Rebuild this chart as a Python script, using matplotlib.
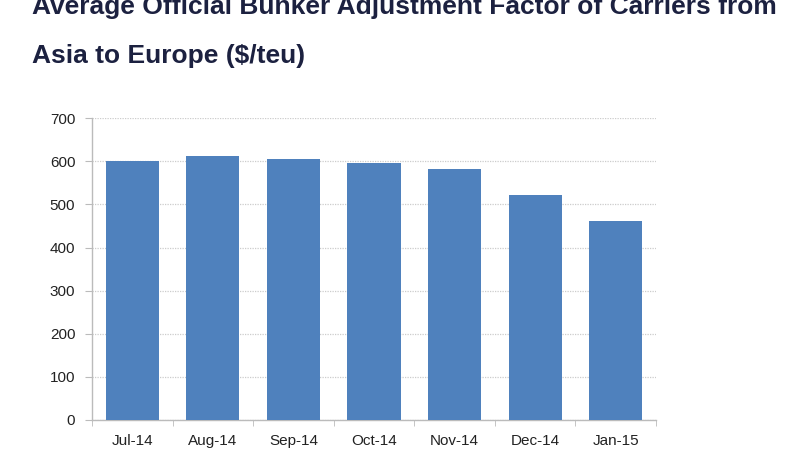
import matplotlib.pyplot as plt
import numpy as np

months = ['Jul-14', 'Aug-14', 'Sep-14', 'Oct-14', 'Nov-14', 'Dec-14', 'Jan-15']
baf = [601, 612, 606, 597, 583, 521, 462]
yticks = [0, 100, 200, 300, 400, 500, 600, 700]

plt.rcParams['font.family'] = ['Liberation Sans', 'DejaVu Sans']

fig = plt.figure(figsize=(8, 4.5), dpi=100)
ax = fig.add_axes([0.115, 0.067, 0.705, 0.670])

x = np.arange(len(months))
ax.bar(x, baf, width=0.66, color='#4f81bd', zorder=3)

ax.set_xlim(-0.5, len(months) - 0.5)
ax.set_ylim(0, 700)
ax.set_yticks(yticks)
ax.set_xticks(x)
ax.set_xticklabels(months)

# category boundary ticks on the x axis
ax.set_xticks(np.arange(-0.5, len(months)), minor=True)
ax.tick_params(axis='x', which='major', length=0, pad=10, labelsize=11, labelcolor='#222222')
ax.tick_params(axis='x', which='minor', length=4, color='#bbbbbb', direction='out')
ax.tick_params(axis='y', length=5, color='#bbbbbb', pad=7, labelsize=11, labelcolor='#222222')

ax.yaxis.grid(True, linestyle=(0, (1, 1)), color='#cccccc', linewidth=0.9, zorder=0)
for side in ['top', 'right']:
    ax.spines[side].set_visible(False)
for side in ['left', 'bottom']:
    ax.spines[side].set_color('#bbbbbb')
    ax.spines[side].set_linewidth(1)

fig.text(0.04, 0.968, 'Average Official Bunker Adjustment Factor of Carriers from',
         fontsize=19, fontweight='bold', color='#1c2140', va='baseline')
fig.text(0.04, 0.86, 'Asia to Europe ($/teu)',
         fontsize=19, fontweight='bold', color='#1c2140', va='baseline')

fig.savefig('out.png', dpi=100)
